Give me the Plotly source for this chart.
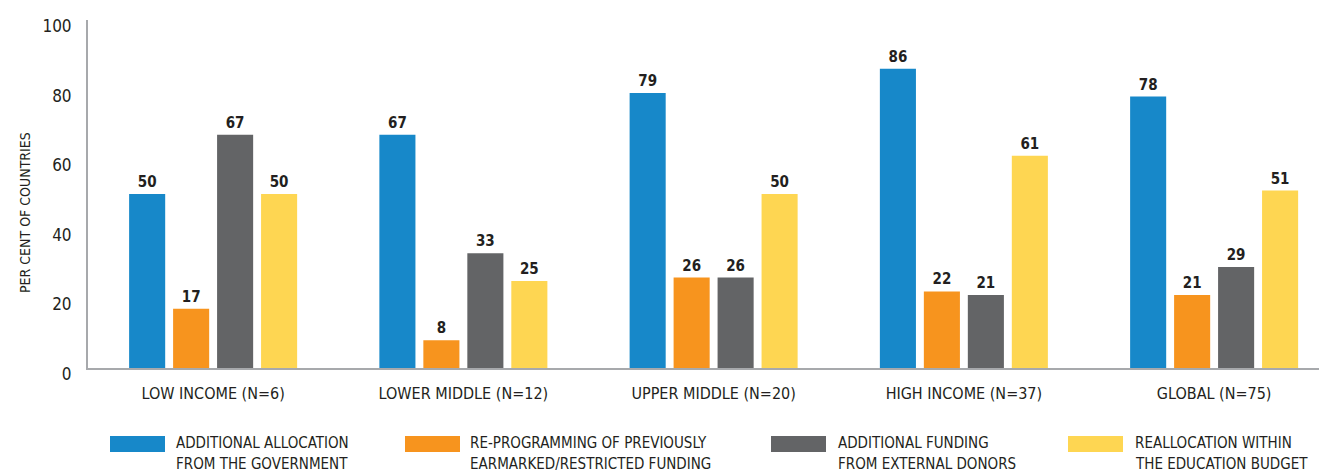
import plotly.graph_objects as go

categories = ["LOW INCOME (N=6)", "LOWER MIDDLE (N=12)", "UPPER MIDDLE (N=20)",
              "HIGH INCOME (N=37)", "GLOBAL (N=75)"]
series_names = ["ADDITIONAL ALLOCATION<br>FROM THE GOVERNMENT",
                "RE-PROGRAMMING OF PREVIOUSLY<br>EARMARKED/RESTRICTED FUNDING",
                "ADDITIONAL FUNDING<br>FROM EXTERNAL DONORS",
                "REALLOCATION WITHIN<br>THE EDUCATION BUDGET"]
gov_alloc = [50, 67, 79, 86, 78]
reprogramming = [17, 8, 26, 22, 21]
external_donors = [67, 33, 26, 21, 29]
edu_realloc = [50, 25, 50, 61, 51]
y_ticks = [0, 20, 40, 60, 80, 100]

series_values = [gov_alloc, reprogramming, external_donors, edu_realloc]
colors = ["#1788C9", "#F7941E", "#636466", "#FED652"]

FONT = "Liberation Sans Narrow, DejaVu Sans Condensed, Arial Narrow, sans-serif"
TXT = "#231F20"
AX = "#A7A9AC"

OFF = 8  # page body margin
W, H = 1327 - OFF, 473 - OFF
ML, MR, MT, MB = 88 - OFF, 0, 20 - OFF, 473 - 368
PW = W - ML - MR
PH = H - MT - MB
CAT_W = 250.25


def px_x(p):
    return (p - OFF - ML) / PW


def px_y(p):
    return (H - MB - (p - OFF)) / PH


fig = go.Figure()
for name, vals, col in zip(series_names, series_values, colors):
    fig.add_trace(go.Bar(
        x=categories, y=vals, name=name, marker_color=col, marker_line_width=0,
        text=[str(v) for v in vals], textposition="outside", cliponaxis=False,
        constraintext="none",
        textfont=dict(family=FONT, size=15, color=TXT, weight="bold"),
        showlegend=False,
    ))

x_end = -0.5 + PW / CAT_W
fig.update_layout(
    width=W, height=H,
    margin=dict(l=ML, r=MR, t=MT, b=MB),
    paper_bgcolor="white", plot_bgcolor="white",
    barmode="group", bargap=0.297, bargroupgap=0.18,
    font=dict(family=FONT, color=TXT),
    xaxis=dict(range=[-0.5, x_end], showline=True, linecolor=AX, linewidth=2,
               showgrid=False, ticks="", tickfont=dict(size=16, color=TXT),
               ticklabelstandoff=10, fixedrange=True),
    yaxis=dict(range=[0, 100], tickvals=y_ticks, showline=True, linecolor=AX,
               linewidth=2, showgrid=False, zeroline=False, ticks="",
               tickfont=dict(size=17, color=TXT), ticklabelstandoff=11,
               ticklabelshift=6, ticklabeloverflow="allow"),
)

fig.add_annotation(text="PER CENT OF COUNTRIES", xref="paper", yref="paper",
                   x=px_x(25), y=px_y(213), textangle=-90, showarrow=False,
                   xanchor="center", yanchor="middle",
                   font=dict(family=FONT, size=14, color=TXT))

sw_left = [110, 405, 771, 1068]
txt_left = [174, 468, 836, 1133]
line_y = [443, 464]
for name, col, sx, tx in zip(series_names, colors, sw_left, txt_left):
    fig.add_shape(type="rect", xref="paper", yref="paper",
                  x0=px_x(sx), x1=px_x(sx + 55), y0=px_y(452), y1=px_y(436),
                  fillcolor=col, line_width=0)
    for line, ly in zip(name.split("<br>"), line_y):
        fig.add_annotation(text=line, xref="paper", yref="paper",
                           x=px_x(tx), y=px_y(ly), showarrow=False,
                           xanchor="left", yanchor="middle", align="left",
                           font=dict(family=FONT, size=15, color=TXT))

fig.write_html("out.html")
